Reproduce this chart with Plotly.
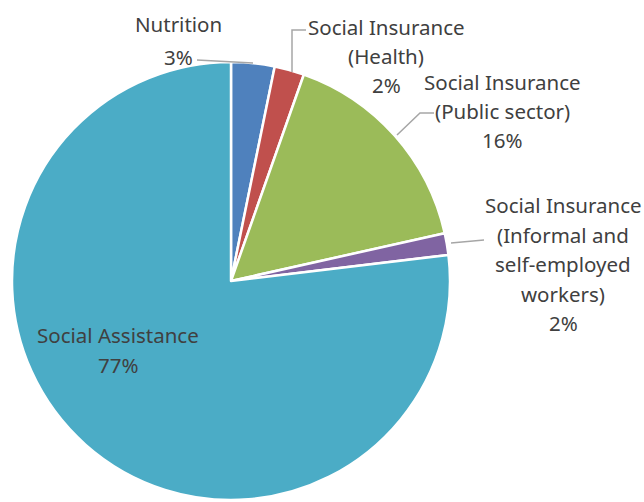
import plotly.graph_objects as go

# ---- data ----
categories = ["Nutrition", "Social Insurance (Health)", "Social Insurance (Public sector)",
              "Social Insurance (Informal and self-employed workers)", "Social Assistance"]
values = [3.2, 2.2, 16.1, 1.6, 76.9]
label_lines = [["Nutrition"],
               ["Social Insurance", "(Health)"],
               ["Social Insurance", "(Public sector)"],
               ["Social Insurance", "(Informal and", "self-employed", "workers)"],
               ["Social Assistance"]]
colors = ["#4F81BD", "#C0504D", "#9BBB59", "#8064A2", "#4BACC6"]

# ---- layout helpers (pixel space of the 644x502 page) ----
W, H = 644, 502
def px(x):
    return x / W
def py(y):
    return 1 - y / H

total = sum(values)
pcts = [f"{round(v / total * 100)}%" for v in values]

# label placement: centre x, first line y, line spacing (pixels)
label_pos = [(178, 24, 33), (386, 27, 29), (502, 82, 29), (563, 205, 29.5), (118, 335, 30)]
# leader lines (pixel points)
leaders = [[(197, 60), (253, 63)],
           [(306, 30), (292, 30), (292, 72)],
           [(434, 113), (420, 113), (397, 135)],
           [(484, 240), (451, 243)],
           None]

fig = go.Figure(go.Pie(
    labels=categories, values=values, sort=False, direction="clockwise", rotation=0,
    marker=dict(colors=colors, line=dict(color="white", width=2.5)),
    textinfo="none", hoverinfo="label+percent", showlegend=False,
    domain=dict(x=[px(12), px(450)], y=[py(500), py(62)]),
))

annotations = []
for lines, pct, (cx, y0, sp) in zip(label_lines, pcts, label_pos):
    for i, t in enumerate(lines + [pct]):
        annotations.append(dict(
            x=px(cx), y=py(y0 + i * sp), xref="paper", yref="paper",
            text=t, showarrow=False, xanchor="center", yanchor="middle",
            font=dict(family="Noto Sans", size=20.5, color="#404040")))

shapes = []
for pts in leaders:
    if not pts:
        continue
    path = "M " + " L ".join(f"{px(x)},{py(y)}" for x, y in pts)
    shapes.append(dict(type="path", path=path, xref="paper", yref="paper",
                       line=dict(color="#A6A6A6", width=1.5)))

fig.update_layout(width=W, height=H, margin=dict(l=0, r=0, t=0, b=0),
                  paper_bgcolor="white", plot_bgcolor="white",
                  annotations=annotations, shapes=shapes)

fig.write_html("out.html")
